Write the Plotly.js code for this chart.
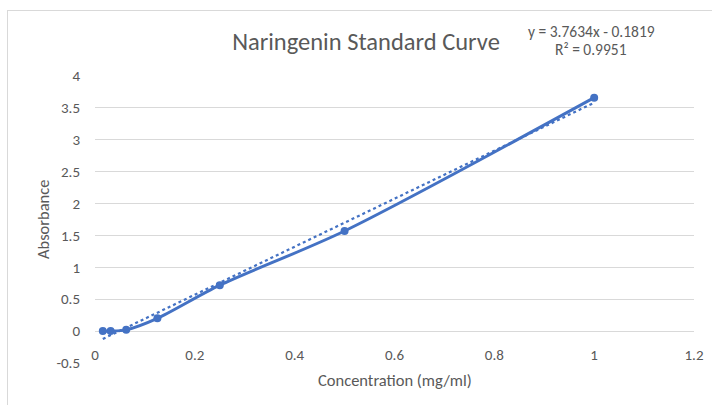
<!DOCTYPE html>
<html>
<head>
<meta charset="utf-8">
<script src="https://cdn.plot.ly/plotly-3.0.1.min.js"></script>
<style>
  html, body { margin: 0; padding: 0; background: #ffffff; }
  #wrap { position: relative; width: 712px; height: 405px; overflow: hidden; }
  #chart { position: absolute; left: 0; top: 0; width: 712px; height: 405px; }
  #frame { position: absolute; left: 7px; top: 10px; width: 800px; height: 500px;
           border: 1px solid #d9d9d9; pointer-events: none; }
</style>
</head>
<body>
<div id="wrap">
  <div id="chart"></div>
  <div id="frame"></div>
</div>
<script>
// Data
const concentration = [0.015625, 0.03125, 0.0625, 0.125, 0.25, 0.5, 1];
const absorbance    = [0.0, 0.0, 0.02, 0.2, 0.72, 1.57, 3.66];

// Linear trendline as stated on the chart
const slope = 3.7634;
const intercept = -0.1819;
const rSquared = 0.9951;

const xTicks = [0, 0.2, 0.4, 0.6, 0.8, 1, 1.2];
const xTickLabels = ['0', '0.2', '0.4', '0.6', '0.8', '1', '1.2'];
const yTicks = [-0.5, 0, 0.5, 1, 1.5, 2, 2.5, 3, 3.5, 4];
const yTickLabels = ['-0.5', '0', '0.5', '1', '1.5', '2', '2.5', '3', '3.5', '4'];

const titleText = 'Naringenin Standard Curve';
const xTitle = 'Concentration (mg/ml)';
const yTitle = 'Absorbance';

const xMin = Math.min(...concentration);
const xMax = Math.max(...concentration);
const trendX = [xMin, xMax];
const trendY = trendX.map(v => slope * v + intercept);

const blue = '#4472C4';
const textGray = '#595959';
const gridGray = '#d9d9d9';
const fontFam = 'Carlito, Calibri, "Open Sans", sans-serif';

const traces = [
  {
    x: concentration, y: absorbance, type: 'scatter', mode: 'lines+markers',
    line: { color: blue, width: 3, shape: 'spline', smoothing: 0.8 },
    marker: { color: blue, size: 8 },
    hoverinfo: 'x+y'
  },
  {
    x: trendX, y: trendY, type: 'scatter', mode: 'lines',
    line: { color: blue, width: 2.25, dash: 'dot' },
    hoverinfo: 'skip'
  }
];

const fmt = v => v.toFixed(4);
const eqText = 'y = ' + fmt(slope) + 'x - ' + fmt(Math.abs(intercept));
const r2Text = 'R² = ' + fmt(rSquared);

const layout = {
  width: 712, height: 405,
  margin: { l: 95, r: 18, t: 76, b: 42 },
  paper_bgcolor: '#ffffff', plot_bgcolor: '#ffffff',
  showlegend: false,
  font: { family: fontFam, color: textGray, size: 15 },
  xaxis: {
    range: [0, 1.2],
    tickvals: xTicks, ticktext: xTickLabels,
    showgrid: false, zeroline: false, showline: false,
    anchor: 'free', position: 0.5 / 4.5,
    ticks: 'outside', ticklen: 10, tickcolor: 'rgba(0,0,0,0)',
    tickfont: { family: fontFam, color: textGray, size: 15 }
  },
  yaxis: {
    range: [-0.5, 4],
    tickvals: yTicks, ticktext: yTickLabels,
    showgrid: true, gridcolor: gridGray, gridwidth: 1,
    zeroline: true, zerolinecolor: gridGray, zerolinewidth: 1,
    showline: false,
    ticks: 'outside', ticklen: 11, tickcolor: 'rgba(0,0,0,0)',
    tickfont: { family: fontFam, color: textGray, size: 15 }
  },
  title: {
    text: titleText,
    font: { family: fontFam, color: textGray, size: 24.5 },
    x: 366 / 712, xref: 'container', xanchor: 'center',
    y: 1 - 41 / 405, yref: 'container', yanchor: 'middle'
  },
  annotations: [
    {
      text: eqText, xref: 'paper', yref: 'paper',
      x: (591 - 95) / 599, y: (363 - 32) / 287, xanchor: 'center', yanchor: 'middle',
      showarrow: false, font: { family: fontFam, color: textGray, size: 15.5 }
    },
    {
      text: r2Text, xref: 'paper', yref: 'paper',
      x: (591 - 95) / 599, y: (363 - 49) / 287, xanchor: 'center', yanchor: 'middle',
      showarrow: false, font: { family: fontFam, color: textGray, size: 15.5 }
    },
    {
      text: xTitle, xref: 'paper', yref: 'paper',
      x: 0.5, y: (363 - 380) / 287, xanchor: 'center', yanchor: 'middle',
      showarrow: false, font: { family: fontFam, color: textGray, size: 16.5 }
    },
    {
      text: yTitle, xref: 'paper', yref: 'paper', textangle: -90,
      x: (43 - 95) / 599, y: (363 - 220) / 287, xanchor: 'center', yanchor: 'middle',
      showarrow: false, font: { family: fontFam, color: textGray, size: 16.5 }
    }
  ]
};

Plotly.newPlot('chart', traces, layout, { staticPlot: true, displayModeBar: false });
</script>
</body>
</html>
